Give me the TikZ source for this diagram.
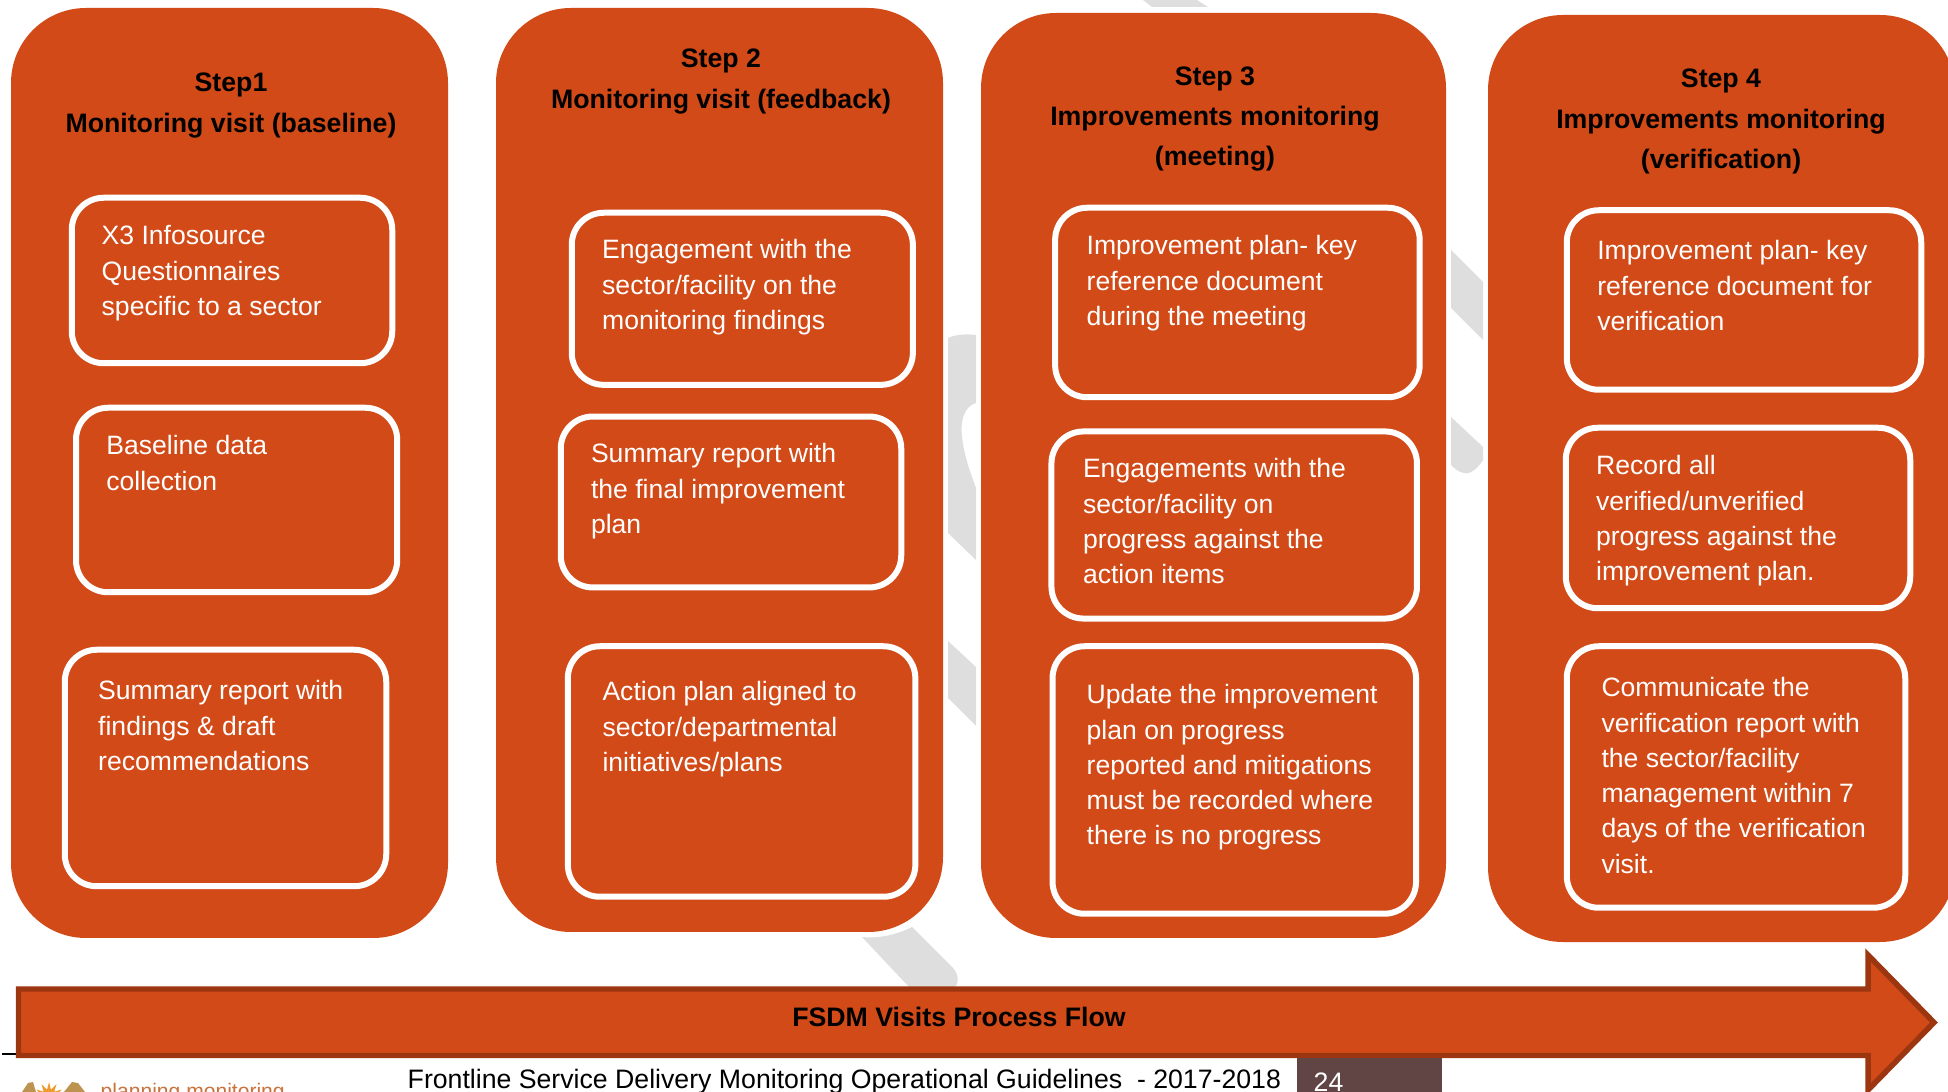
\documentclass[tikz,border=0pt]{standalone}
\usepackage{fontspec}
\setmainfont{Liberation Sans}
\usetikzlibrary{shapes.geometric}
\definecolor{panelorange}{HTML}{D24A17}
\definecolor{arrowbrown}{HTML}{9C3610}
\definecolor{markgray}{HTML}{DEDEDE}
\definecolor{pagebrown}{HTML}{614545}
\definecolor{logotext}{HTML}{C8723C}
\definecolor{logowing}{HTML}{BC9450}
\definecolor{logosun}{HTML}{EE9A2C}
\tikzset{
    panel/.style={fill=panelorange, rounded corners=0.75cm, inner sep=0pt},
    infobox/.style={draw=white, line width=0.06cm, rounded corners=0.32cm, inner sep=0pt},
    infotext/.style={anchor=north west, align=left, inner sep=0pt, text=white,
        font=\fontsize{7.56}{10.03}\selectfont},
    headtext/.style={align=center, inner sep=0pt, text=black,
        font=\fontsize{7.6}{11.4}\selectfont\bfseries},
    watermark/.style={fill=markgray, draw=none},
    wing/.style={fill=logowing, draw=none}
}
\begin{document}
\begin{tikzpicture}
        \useasboundingbox (0,0) rectangle (19.48,-10.92);

        \fill[watermark] (11.43,0) -- (11.52,-0.07) -- (12.08,-0.07) -- (11.97,0) -- cycle;
        \fill[watermark] (9.48,-3.38) .. controls (9.57,-3.34) and (9.67,-3.34) .. (9.76,-3.35)
            -- (9.76,-4.03) .. controls (9.64,-4.06) and (9.60,-4.22) .. (9.62,-4.37)
            .. controls (9.64,-4.55) and (9.70,-4.72) .. (9.76,-4.88)
            -- (9.76,-5.60) -- (9.48,-5.33) -- cycle;
        \fill[watermark] (9.48,-6.41) -- (9.76,-6.67) -- (9.76,-7.26) -- (9.48,-6.98) -- cycle;
        \fill[watermark] (14.51,-2.50) -- (14.83,-2.82) -- (14.83,-3.40) -- (14.51,-3.08) -- cycle;
        \fill[watermark] (14.51,-4.17) -- (14.83,-4.47) -- (14.83,-4.60)
            .. controls (14.78,-4.68) and (14.70,-4.75) .. (14.64,-4.73)
            .. controls (14.58,-4.72) and (14.54,-4.68) .. (14.51,-4.65) -- cycle;
        \fill[watermark] (8.62,-9.37) .. controls (8.82,-9.39) and (9.00,-9.33) .. (9.12,-9.27)
            -- (9.53,-9.68) .. controls (9.59,-9.75) and (9.59,-9.82) .. (9.55,-9.88)
            -- (9.10,-9.88) -- cycle;

        \node[panel, minimum width=4.37cm, minimum height=9.30cm] (panelA) at (2.295,-4.73) {};
        \node[panel, minimum width=4.47cm, minimum height=9.24cm] (panelB) at (7.195,-4.70) {};
        \node[panel, minimum width=4.65cm, minimum height=9.25cm] (panelC) at (12.135,-4.755) {};
        \node[panel, minimum width=4.67cm, minimum height=9.27cm] (panelD) at (17.215,-4.785) {};

        \node[headtext] (headA) at (2.31,-1.055) {Step1\\Monitoring visit (baseline)};
        \node[headtext] (headB) at (7.21,-0.815) {Step 2\\Monitoring visit (feedback)};
        \node[headtext] (headC) at (12.15,-1.19) {Step 3\\Improvements monitoring\\(meeting)};
        \node[headtext] (headD) at (17.21,-1.215) {Step 4\\Improvements monitoring\\(verification)};

        \node[infobox, minimum width=3.205cm, minimum height=1.655cm] (boxAa) at (2.32,-2.805) {};
        \node[infobox, minimum width=3.212cm, minimum height=1.845cm] (boxAb) at (2.366,-5.00) {};
        \node[infobox, minimum width=3.215cm, minimum height=2.365cm] (boxAc) at (2.255,-7.68) {};
        \node[infobox, minimum width=3.411cm, minimum height=1.721cm] (boxBa) at (7.423,-2.988) {};
        \node[infobox, minimum width=3.405cm, minimum height=1.709cm] (boxBb) at (7.31,-5.02) {};
        \node[infobox, minimum width=3.475cm, minimum height=2.505cm] (boxBc) at (7.416,-7.715) {};
        \node[infobox, minimum width=3.645cm, minimum height=1.895cm] (boxCa) at (12.374,-3.025) {};
        \node[infobox, minimum width=3.655cm, minimum height=1.871cm] (boxCb) at (12.342,-5.25) {};
        \node[infobox, minimum width=3.635cm, minimum height=2.675cm] (boxCc) at (12.343,-7.80) {};
        \node[infobox, minimum width=3.545cm, minimum height=1.795cm] (boxDa) at (17.44,-3.00) {};
        \node[infobox, minimum width=3.445cm, minimum height=1.805cm] (boxDb) at (17.38,-5.18) {};
        \node[infobox, minimum width=3.385cm, minimum height=2.615cm] (boxDc) at (17.36,-7.77) {};

        \node[infotext] (textAa) at (1.01,-2.25) {X3 Infosource\\Questionnaires\\specific to a sector};
        \node[infotext] (textAb) at (1.056,-4.35) {Baseline data\\collection};
        \node[infotext] (textAc) at (0.975,-6.80) {Summary report with\\findings \& draft\\recommendations};
        \node[infotext] (textBa) at (6.015,-2.39) {Engagement with the\\sector/facility on the\\monitoring findings};
        \node[infotext] (textBb) at (5.903,-4.43) {Summary report with\\the final improvement\\plan};
        \node[infotext] (textBc) at (6.018,-6.81) {Action plan aligned to\\sector/departmental\\initiatives/plans};
        \node[infotext] (textCa) at (10.86,-2.35) {Improvement plan- key\\reference document\\during the meeting};
        \node[infotext] (textCb) at (10.823,-4.58) {Engagements with the\\sector/facility on\\progress against the\\action items};
        \node[infotext] (textCc) at (10.86,-6.84) {Update the improvement\\plan on progress\\reported and mitigations\\must be recorded where\\there is no progress};
        \node[infotext] (textDa) at (15.966,-2.40) {Improvement plan- key\\reference document for\\verification};
        \node[infotext] (textDb) at (15.954,-4.55) {Record all\\verified/unverified\\progress against the\\improvement plan.};
        \node[infotext] (textDc) at (16.008,-6.77) {Communicate the\\verification report with\\the sector/facility\\management within 7\\days of the verification\\visit.};

        \draw[black, line width=0.015cm] (0.02,-10.54) -- (0.16,-10.54);
        \draw[draw=arrowbrown, fill=panelorange, line width=0.055cm, miter limit=10]
            (0.185,-9.89) -- (18.68,-9.89) -- (18.68,-9.55) -- (19.34,-10.225)
            -- (18.68,-10.90) -- (18.68,-10.555) -- (0.185,-10.555) -- cycle;
        \node[headtext] (flowlabel) at (9.59,-10.17) {FSDM Visits Process Flow};

        \node[fill=pagebrown, inner sep=0pt, minimum width=1.45cm, minimum height=0.44cm] (pagebox) at (13.695,-10.80) {};
        \node[anchor=west, inner sep=0pt, text=white, font=\fontsize{7.6}{10}\selectfont] (pagenumber) at (13.13,-10.82) {24};
        \node[anchor=west, inner sep=0pt, font=\fontsize{7.59}{10}\selectfont] (footer) at (4.07,-10.82) {Frontline Service Delivery Monitoring Operational Guidelines\ \ - 2017-2018};

        \fill[wing] (0.22,-10.92) -- (0.28,-10.83) -- (0.33,-10.82) -- (0.36,-10.92) -- cycle;
        \fill[wing] (0.64,-10.92) -- (0.72,-10.82) -- (0.78,-10.83) -- (0.85,-10.92) -- cycle;
        \node[star, star points=12, star point ratio=2, fill=logosun, inner sep=0pt, minimum size=0.30cm] (logosun) at (0.49,-10.97) {};
        \node[anchor=north west, inner sep=0pt, text=logotext, font=\fontsize{6}{9}\selectfont] (logotext) at (1.0,-10.83) {planning monitoring};
\end{tikzpicture}
\end{document}
